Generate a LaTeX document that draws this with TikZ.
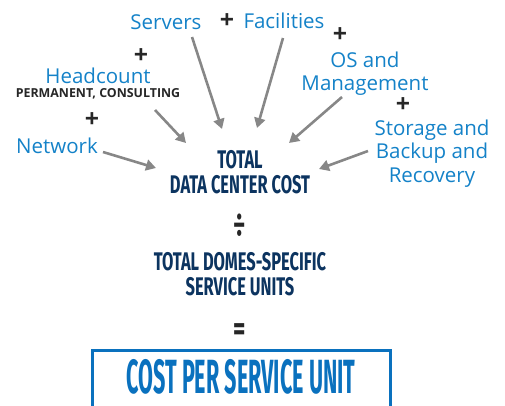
\documentclass[tikz,border=0pt]{standalone}
\usepackage{fontspec}
\setmainfont{Open Sans}
\newfontfamily\condfont[FakeStretch=0.645,UprightFont=* Bold]{Fira Sans}
\newfontfamily\boxfont[FakeStretch=0.45,UprightFont=* Bold]{Fira Sans}
\newfontfamily\opfont[FakeStretch=0.7,UprightFont=* Bold]{Fira Sans}
\newfontfamily\labfont{Open Sans}
\newfontfamily\labbold[UprightFont=* Bold]{Open Sans}
\usetikzlibrary{arrows.meta}
\definecolor{labblue}{RGB}{20,130,200}
\definecolor{navy}{RGB}{12,52,96}
\definecolor{boxblue}{RGB}{10,113,190}
\definecolor{arrgray}{RGB}{135,135,135}
\begin{document}
\begin{tikzpicture}[x=1pt,y=-1pt,
  lab/.style={anchor=base,inner sep=0pt,text=labblue,font=\labfont\fontsize{20.5}{23.5}\selectfont,align=center},
  sub/.style={anchor=base,inner sep=0pt,text=black!85,font=\labbold\fontsize{12.4}{14}\selectfont},
  plus/.style={anchor=base,inner sep=0pt,text height=0.62em,text depth=0pt,text=black!85,font=\labbold\fontsize{25}{25}\selectfont},
  title/.style={anchor=base,inner sep=0pt,align=center,text=navy,font=\condfont\fontsize{25.5}{25}\selectfont},
  op/.style={anchor=base,inner sep=0pt,text height=0.75em,text depth=0pt,text=black!85,font=\opfont\fontsize{34}{34}\selectfont},
  conn/.style={draw=arrgray,line width=2.6pt,-{Triangle[length=10pt,width=11pt]}}]
\useasboundingbox (0,0) rectangle (505,405);
% labels
\node[lab] (servers) at (166,29) {Servers};
\node[plus] (p1) at (227,28.3) {+};
\node[lab] (facil) at (284,28) {Facilities};
\node[plus] (p2) at (141,63.3) {+};
\node[lab] (head) at (98,83) {Headcount};
\node[sub] (perm) at (98,97) {PERMANENT, CONSULTING};
\node[plus] (p3) at (92,127.3) {+};
\node[lab] (net) at (57,153) {Network};
\node[plus] (p4) at (340,42.3) {+};
\node[lab] (os1) at (365,67) {OS and};
\node[lab] (os2) at (365,90) {Management};
\node[plus] (p5) at (403,112.3) {+};
\node[lab] (st1) at (432,135) {Storage and};
\node[lab] (st2) at (432,158) {Backup and};
\node[lab] (st3) at (432,182) {Recovery};
% center
\node[title] (tdc) at (240,193) {TOTAL\\DATA CENTER COST};
\node[op] (div) at (240,236.4) {÷};
\node[title] (tsu) at (240,295) {TOTAL DOMES-SPECIFIC\\SERVICE UNITS};
\node[op] (eq) at (240,340) {=};
\draw[boxblue,line width=3pt] (92,410) |- (390,350) -- (390,410);
\node[anchor=base,inner sep=0pt,text=boxblue,font=\boxfont\fontsize{48}{50}\selectfont] (res) at (241,393) {COST PER SERVICE UNIT};
% arrows
\coordinate (a1s) at (192,37); \coordinate (a1e) at (222,129);
\coordinate (a2s) at (283,38); \coordinate (a2e) at (257,128);
\coordinate (a3s) at (155,110); \coordinate (a3e) at (186,143);
\coordinate (a4s) at (342,97); \coordinate (a4e) at (289,143);
\coordinate (a5s) at (103,152); \coordinate (a5e) at (156,168);
\coordinate (a6s) at (368,151); \coordinate (a6e) at (319,169);
\draw[conn] (a1s) -- (a1e);
\draw[conn] (a2s) -- (a2e);
\draw[conn] (a3s) -- (a3e);
\draw[conn] (a4s) -- (a4e);
\draw[conn] (a5s) -- (a5e);
\draw[conn] (a6s) -- (a6e);
\end{tikzpicture}
\end{document}
